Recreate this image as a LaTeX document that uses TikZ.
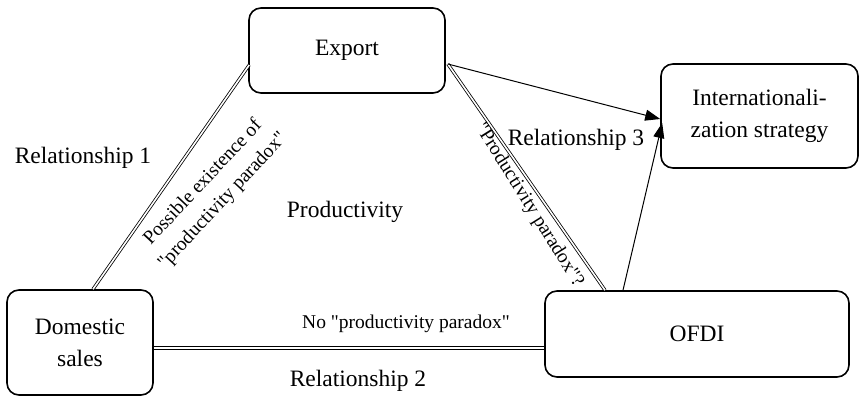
\documentclass[tikz,border=0pt]{standalone}
\usepackage{fontspec}
\setmainfont{Liberation Serif}
\usetikzlibrary{calc,arrows.meta}
\newcommand\dq{\textquotedbl}
\begin{document}
\begin{tikzpicture}[x=1pt,y=-1pt,
  box/.style={draw,line width=1.6pt,rounded corners=12pt,align=center,inner sep=0pt,font=\fontsize{23.5}{32}\selectfont},
  lbl/.style={font=\fontsize{23.5}{28}\selectfont,inner sep=0pt},
  small/.style={font=\fontsize{19.5}{27}\selectfont,inner sep=0pt,align=center},
  dbl/.style={double distance=1.6pt,line width=0.8pt},
  arr/.style={line width=1pt,-{Triangle[length=15pt,width=11pt]}}]
\useasboundingbox (0,0) rectangle (859,396);
\node[box,minimum width=196pt,minimum height=85pt] (exp) at (347,50.5) {Export};
\node[box,minimum width=197pt,minimum height=104pt] (intl) at (759.5,116) {Internationali-\\zation strategy};
\node[box,minimum width=146pt,minimum height=105pt] (dom) at (80,342.5) {Domestic\\sales};
\node[box,minimum width=304pt,minimum height=86pt] (ofdi) at (697,334) {OFDI};
\coordinate (d1) at ($(dom.north)+(13,0)$);
\coordinate (e1) at ($(exp.west)+(1,14.5)$);
\coordinate (e2) at ($(exp.east)+(2,13.5)$);
\coordinate (o1) at ($(ofdi.north)+(-92,0)$);
\coordinate (d2) at ($(dom.east)+(0,5.5)$);
\coordinate (o2) at ($(ofdi.west)+(0,14)$);
\coordinate (i1) at ($(intl.west)+(0,3)$);
\coordinate (i2) at ($(intl.west)+(2,7)$);
\coordinate (o3) at ($(ofdi.north)+(-74,0)$);
\draw[dbl] (d1) -- (e1);
\draw[dbl] (e2) -- (o1);
\draw[dbl] (d2) -- (o2);
\draw[arr] (e2) -- (i1);
\draw[arr] (o3) -- (i2);
\node[lbl] (r1) at (83,158) {Relationship 1};
\node[lbl] (prod) at (345,212) {Productivity};
\node[lbl] (r2) at (358,381) {Relationship 2};
\node[lbl] (r3) at (576,140) {Relationship 3};
\node[small] (nop) at (406,324) {No \dq productivity paradox\dq};
\node[small,rotate=47] (pe) at (213,192) {Possible existence of\\\dq productivity paradox\dq};
\node[small,rotate=-58] (pp) at (529,205) {\dq Productivity paradox\dq?};
\end{tikzpicture}
\end{document}
